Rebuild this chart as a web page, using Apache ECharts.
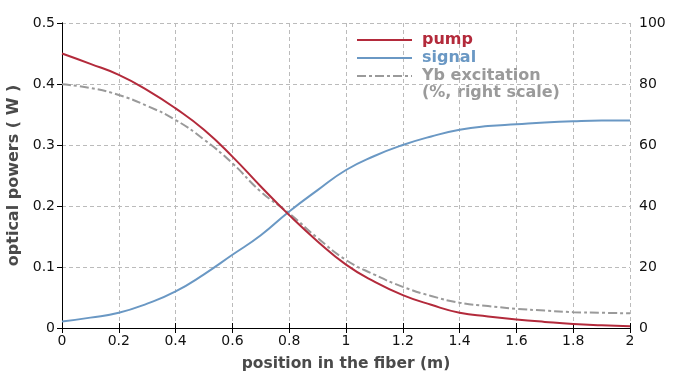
<!DOCTYPE html>
<html>
<head>
<meta charset="utf-8">
<script src="https://cdn.jsdelivr.net/npm/echarts@6/dist/echarts.min.js"></script>
<style>
  html, body { margin: 0; padding: 0; background: #fff; }
  #chart { width: 700px; height: 375px; }
</style>
</head>
<body>
<div id="chart"></div>
<script>
// position along the fiber (m)
const positions = [0, 0.1, 0.2, 0.3, 0.4, 0.5, 0.6, 0.7, 0.8, 0.9, 1.0, 1.1, 1.2, 1.3, 1.4, 1.5, 1.6, 1.7, 1.8, 1.9, 2.0];
// optical powers (W)
const pump = [0.450, 0.433, 0.415, 0.390, 0.360, 0.325, 0.281, 0.232, 0.185, 0.142, 0.104, 0.076, 0.054, 0.038, 0.025, 0.019, 0.014, 0.010, 0.0066, 0.0045, 0.003];
const signal = [0.0105, 0.017, 0.025, 0.040, 0.060, 0.088, 0.120, 0.152, 0.191, 0.226, 0.259, 0.282, 0.300, 0.314, 0.325, 0.331, 0.334, 0.337, 0.339, 0.340, 0.340];
// Yb excitation (%)
const ybExcitation = [79.9, 78.7, 76.4, 72.8, 68.2, 61.8, 54.0, 44.7, 37.6, 29.5, 22.3, 17.5, 13.5, 10.5, 8.3, 7.2, 6.3, 5.7, 5.2, 5.0, 4.8];

const FONT = 'DejaVu Sans';
const pairs = (ys) => positions.map((x, i) => [x, ys[i]]);

const chart = echarts.init(document.getElementById('chart'), null, { renderer: 'canvas' });

const gridLine = { show: true, lineStyle: { color: '#bbb', type: [4, 3], width: 1 } };
const boxLine = { show: true, lineStyle: { color: '#000', width: 1 } };
const label = { color: '#111', fontFamily: FONT, fontSize: 14 };
const nameStyle = { color: '#4a4a4a', fontFamily: FONT, fontSize: 15.5, fontWeight: 'bold' };

chart.setOption({
  animation: false,
  backgroundColor: '#fff',
  grid: { left: 62, right: 70, top: 23, bottom: 47, outerBoundsMode: 'none', containLabel: false },
  legend: {
    orient: 'vertical',
    left: 351,
    top: 26,
    itemWidth: 55,
    itemHeight: 14,
    itemGap: 0,
    itemStyle: { opacity: 0 },
    textStyle: { fontFamily: FONT, fontSize: 16, fontWeight: 'bold', lineHeight: 18, padding: [0, 0, 0, 5] },
    data: [
      { name: 'pump', textStyle: { color: '#b32a3b' } },
      { name: 'signal', textStyle: { color: '#6a98c4' } },
      { name: 'Yb excitation', textStyle: { color: '#9a9a9a' } }
    ]
  },
  // second line of the Yb legend entry
  graphic: [{
    type: 'text', left: 422, top: 85,
    style: { text: '(%, right scale)', fill: '#9a9a9a', font: 'bold 16px "DejaVu Sans"' }
  }],
  xAxis: [
    {
      type: 'value', min: 0, max: 2, interval: 0.2,
      name: 'position in the fiber (m)', nameLocation: 'middle', nameGap: 28, nameTextStyle: nameStyle,
      axisLine: boxLine,
      axisTick: { show: true, inside: true, length: 5, lineStyle: { color: '#000' } },
      axisLabel: { ...label, margin: 6 },
      splitLine: gridLine
    },
    {
      type: 'value', min: 0, max: 2, interval: 0.2, position: 'top',
      axisLine: boxLine,
      axisTick: { show: true, inside: true, length: 5, lineStyle: { color: '#000' } },
      axisLabel: { show: false },
      splitLine: { show: false }
    }
  ],
  yAxis: [
    {
      type: 'value', min: 0, max: 0.5, interval: 0.1,
      name: 'optical powers ( W )', nameLocation: 'middle', nameGap: 32, nameRotate: 90,
      nameTextStyle: { ...nameStyle, fontSize: 16 },
      axisLine: boxLine,
      axisTick: { show: false },
      axisLabel: { ...label, margin: 7, formatter: (v) => String(Math.round(v * 10) / 10) },
      splitLine: gridLine
    },
    {
      type: 'value', min: 0, max: 100, interval: 20, position: 'right',
      axisLine: boxLine,
      axisTick: { show: true, inside: true, length: 5, lineStyle: { color: '#000' } },
      axisLabel: { ...label, margin: 9 },
      splitLine: { show: false }
    }
  ],
  series: [
    {
      name: 'Yb excitation', type: 'line', yAxisIndex: 1, smooth: true, showSymbol: false, symbol: 'none',
      lineStyle: { color: '#9a9a9a', width: 2, type: [9, 3, 3, 3] },
      itemStyle: { color: '#9a9a9a' },
      data: pairs(ybExcitation)
    },
    {
      name: 'signal', type: 'line', smooth: true, showSymbol: false, symbol: 'none',
      lineStyle: { color: '#6a98c4', width: 2 },
      itemStyle: { color: '#6a98c4' },
      data: pairs(signal)
    },
    {
      name: 'pump', type: 'line', smooth: true, showSymbol: false, symbol: 'none',
      lineStyle: { color: '#b32a3b', width: 2 },
      itemStyle: { color: '#b32a3b' },
      data: pairs(pump)
    }
  ]
});
</script>
</body>
</html>
